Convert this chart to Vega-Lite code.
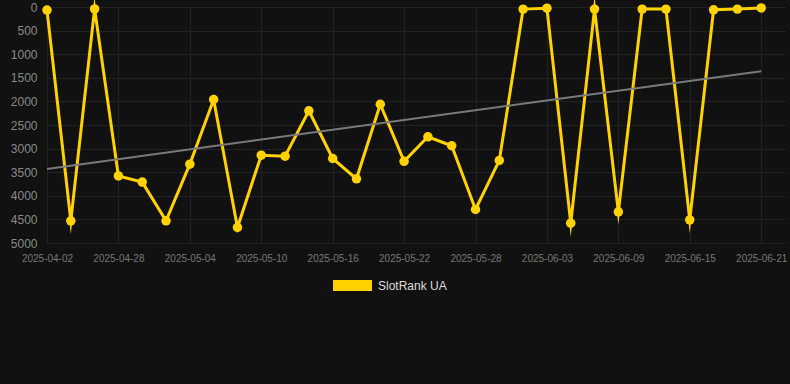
{
  "$schema": "https://vega.github.io/schema/vega-lite/v6.json",
  "width": 738,
  "height": 236,
  "autosize": "none",
  "padding": {"left": 47, "top": 7, "right": 5, "bottom": 141},
  "background": "#111111",
  "config": {
    "view": {"stroke": null},
    "font": "Liberation Sans",
    "axis": {"domain": false, "ticks": false, "gridColor": "#222222", "gridWidth": 1}
  },
  "datasets": {
    "ranks": [
      {"date": "2025-04-02", "rank": 65, "series": "SlotRank UA"},
      {"date": "2025-04-24", "rank": 4530, "series": "SlotRank UA"},
      {"date": "2025-04-26", "rank": 40, "series": "SlotRank UA"},
      {"date": "2025-04-28", "rank": 3580, "series": "SlotRank UA"},
      {"date": "2025-04-30", "rank": 3710, "series": "SlotRank UA"},
      {"date": "2025-05-02", "rank": 4530, "series": "SlotRank UA"},
      {"date": "2025-05-04", "rank": 3330, "series": "SlotRank UA"},
      {"date": "2025-05-06", "rank": 1960, "series": "SlotRank UA"},
      {"date": "2025-05-08", "rank": 4670, "series": "SlotRank UA"},
      {"date": "2025-05-10", "rank": 3140, "series": "SlotRank UA"},
      {"date": "2025-05-12", "rank": 3160, "series": "SlotRank UA"},
      {"date": "2025-05-14", "rank": 2200, "series": "SlotRank UA"},
      {"date": "2025-05-16", "rank": 3210, "series": "SlotRank UA"},
      {"date": "2025-05-18", "rank": 3640, "series": "SlotRank UA"},
      {"date": "2025-05-20", "rank": 2060, "series": "SlotRank UA"},
      {"date": "2025-05-22", "rank": 3270, "series": "SlotRank UA"},
      {"date": "2025-05-24", "rank": 2750, "series": "SlotRank UA"},
      {"date": "2025-05-26", "rank": 2940, "series": "SlotRank UA"},
      {"date": "2025-05-28", "rank": 4290, "series": "SlotRank UA"},
      {"date": "2025-05-30", "rank": 3250, "series": "SlotRank UA"},
      {"date": "2025-06-01", "rank": 45, "series": "SlotRank UA"},
      {"date": "2025-06-03", "rank": 25, "series": "SlotRank UA"},
      {"date": "2025-06-05", "rank": 4580, "series": "SlotRank UA"},
      {"date": "2025-06-07", "rank": 45, "series": "SlotRank UA"},
      {"date": "2025-06-09", "rank": 4340, "series": "SlotRank UA"},
      {"date": "2025-06-11", "rank": 45, "series": "SlotRank UA"},
      {"date": "2025-06-13", "rank": 45, "series": "SlotRank UA"},
      {"date": "2025-06-15", "rank": 4510, "series": "SlotRank UA"},
      {"date": "2025-06-17", "rank": 60, "series": "SlotRank UA"},
      {"date": "2025-06-19", "rank": 45, "series": "SlotRank UA"},
      {"date": "2025-06-21", "rank": 20, "series": "SlotRank UA"}
    ],
    "trend": [
      {"date": "2025-04-02", "rank": 3430},
      {"date": "2025-06-21", "rank": 1360}
    ]
  },
  "encoding": {
    "x": {
      "field": "date", "type": "ordinal", "sort": null,
      "scale": {
        "type": "point", "padding": 0.5, "align": 0,
        "domain": ["2025-04-02", "2025-04-24", "2025-04-26", "2025-04-28", "2025-04-30", "2025-05-02", "2025-05-04", "2025-05-06", "2025-05-08", "2025-05-10", "2025-05-12", "2025-05-14", "2025-05-16", "2025-05-18", "2025-05-20", "2025-05-22", "2025-05-24", "2025-05-26", "2025-05-28", "2025-05-30", "2025-06-01", "2025-06-03", "2025-06-05", "2025-06-07", "2025-06-09", "2025-06-11", "2025-06-13", "2025-06-15", "2025-06-17", "2025-06-19", "2025-06-21"]
      },
      "axis": {
        "title": null,
        "labelAngle": 0,
        "labelColor": "#777777",
        "labelFontSize": 10,
        "labelPadding": 10,
        "grid": true,
        "values": ["2025-04-02", "2025-04-28", "2025-05-04", "2025-05-10", "2025-05-16", "2025-05-22", "2025-05-28", "2025-06-03", "2025-06-09", "2025-06-15", "2025-06-21"]
      }
    },
    "y": {
      "field": "rank", "type": "quantitative",
      "scale": {"domain": [0, 5000], "reverse": true, "nice": false},
      "axis": {
        "title": null,
        "format": "d",
        "values": [0, 500, 1000, 1500, 2000, 2500, 3000, 3500, 4000, 4500, 5000],
        "labelColor": "#8a8a8a",
        "labelFontSize": 12,
        "labelPadding": 10,
        "grid": true
      }
    }
  },
  "layer": [
    {
      "data": {"name": "ranks"},
      "mark": {"type": "line", "color": "#ffd200", "strokeWidth": 3, "strokeJoin": "miter", "strokeMiterLimit": 10}
    },
    {
      "data": {"name": "trend"},
      "mark": {"type": "line", "color": "#7a7a7a", "strokeWidth": 2}
    },
    {
      "data": {"name": "ranks"},
      "mark": {"type": "point", "filled": true, "size": 90, "opacity": 1},
      "encoding": {
        "color": {
          "field": "series", "type": "nominal",
          "scale": {"domain": ["SlotRank UA"], "range": ["#ffd200"]},
          "legend": {
            "title": null,
            "orient": "none",
            "legendX": 286,
            "legendY": 259,
            "symbolType": "M-1,-0.28L1,-0.28L1,0.28L-1,0.28Z",
            "symbolSize": 1521,
            "symbolStrokeWidth": 0,
            "symbolOpacity": 1,
            "labelColor": "#dddddd",
            "labelFontSize": 12,
            "labelOffset": 6
          }
        }
      }
    }
  ]
}
